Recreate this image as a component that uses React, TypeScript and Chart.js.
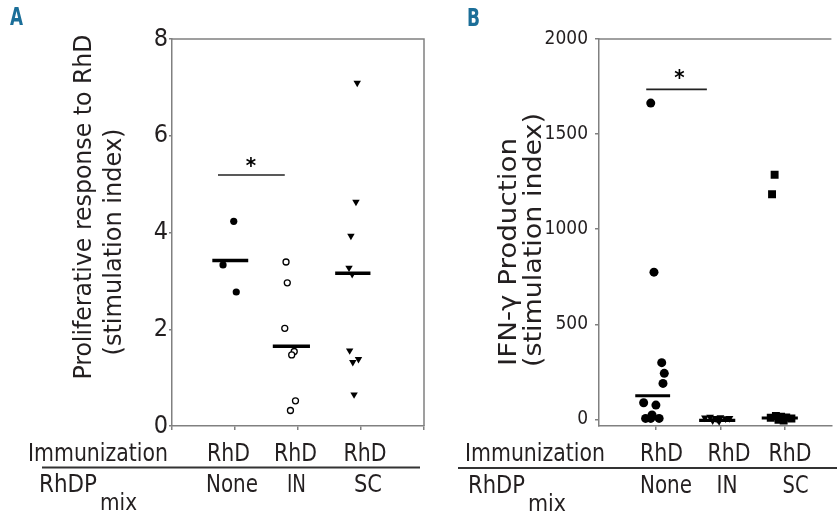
import React, { useEffect, useRef } from "react";
import { Chart, registerables } from "chart.js";
Chart.register(...registerables);

const NARROW =
  "'Liberation Sans Narrow', 'DejaVu Sans Condensed', 'Roboto Condensed', 'Liberation Sans', Arial, sans-serif";
const AXIS = "#808080";
const INK = "#231f20";
const PANEL_COLOR = "#1b6e98";

// ---------------- shared category labels ----------------
const rowLabels = ["Immunization", "RhDP", "mix"];
const immunization = ["RhD", "RhD", "RhD"];
const rhdpMix = ["None", "IN", "SC"];

// ---------------- Panel A: proliferative response ----------------
const aTitle = ["Proliferative response to RhD", "(stimulation index)"];
const aTicks = [0, 2, 4, 6, 8];
const aCatTicks = [0, 1, 2, 3, 4];
const aNoneX = [0.98, 0.81, 1.02];
const aNoneY = [4.23, 3.33, 2.77];
const aInX = [1.81, 1.83, 1.79, 1.94, 1.9, 1.96, 1.88];
const aInY = [3.39, 2.96, 2.02, 1.54, 1.47, 0.52, 0.32];
const aScX = [2.94, 2.92, 2.84, 2.81, 2.86, 2.82, 2.96, 2.87, 2.89];
const aScY = [7.09, 4.63, 3.93, 3.27, 3.14, 1.56, 1.38, 1.32, 0.65];
const aMeanY = [3.42, 1.65, 3.16];
const aMeanX0 = [0.64, 1.6, 2.59];
const aMeanX1 = [1.21, 2.19, 3.15];
const aSigX = [0.73, 1.79];
const aSigY = [5.19, 5.19];
const aStar = [1.254, 5.5];

// ---------------- Panel B: IFN-gamma production ----------------
const bTitle = ["IFN-\u03b3 Production", "(stimulation index)"];
const bTicks = [0, 500, 1000, 1500, 2000];
const bCatTicks = [1, 2, 3];
const bNoneX = [0.92, 0.97, 1.09, 1.13, 1.11, 0.81, 1.0, 0.94, 0.84, 0.92, 1.05];
const bNoneY = [1663, 774, 298, 242, 189, 87, 75, 23, 5, 5, 5];
const bInX = [1.76, 1.84, 1.92, 2.0, 2.08, 2.14, 1.88, 1.98, 1.95];
const bInY = [8, 12, 6, 10, 4, 6, -6, -10, 0];
const bScX = [2.84, 2.8, 2.78, 2.86, 2.94, 3.02, 3.1, 2.9, 2.98];
const bScY = [1286, 1184, 8, 18, 14, 10, 4, -2, -6];
const bMeanY = [124, -5, 7];
const bMeanX0 = [0.68, 1.67, 2.64];
const bMeanX1 = [1.22, 2.23, 3.2];
const bSigX = [0.85, 1.79];
const bSigY = [1735, 1735];
const bStar = [1.365, 1828];

const pts = (xs: number[], ys: number[]) => xs.map((x, i) => ({ x, y: ys[i] }));

function txt(
  ctx: CanvasRenderingContext2D,
  s: string,
  x: number,
  y: number,
  size: number,
  o: { align?: CanvasTextAlign; width?: number; bold?: boolean; color?: string; rot?: boolean } = {}
) {
  ctx.save();
  ctx.font = `${o.bold ? "bold " : ""}${size}px ${NARROW}`;
  ctx.fillStyle = o.color || INK;
  ctx.textBaseline = "alphabetic";
  ctx.translate(x, y);
  if (o.rot) ctx.rotate(-Math.PI / 2);
  const w = ctx.measureText(s).width;
  if (o.width) ctx.scale(o.width / w, 1);
  ctx.textAlign = o.align || "left";
  ctx.fillText(s, 0, 0);
  ctx.restore();
}

function star(ctx: CanvasRenderingContext2D, cx: number, cy: number) {
  ctx.save();
  ctx.font = `bold 22px ${NARROW}`;
  ctx.fillStyle = "#000";
  ctx.textAlign = "center";
  ctx.textBaseline = "alphabetic";
  ctx.fillText("*", cx, cy + 13);
  ctx.restore();
}

function meanLines(x0: number[], x1: number[], ys: number[], width: number) {
  return ys.map((y, i) => ({
    type: "line" as const,
    data: [
      { x: x0[i], y },
      { x: x1[i], y },
    ],
    borderColor: "#000",
    borderWidth: width,
    pointRadius: 0,
    showLine: true,
  }));
}

function ticksFrom(values: number[]) {
  return (scale: any) => {
    scale.ticks = values.map((v) => ({ value: v }));
  };
}

const frame = (right: boolean) => ({
  id: "frame",
  beforeDatasetsDraw(chart: any) {
    const { ctx, chartArea: a } = chart;
    ctx.save();
    ctx.strokeStyle = AXIS;
    ctx.lineWidth = 1.5;
    ctx.beginPath();
    ctx.moveTo(a.left, a.top);
    ctx.lineTo(a.right, a.top);
    if (right) ctx.lineTo(a.right, a.bottom);
    ctx.stroke();
    ctx.restore();
  },
});

function buildA(canvas: HTMLCanvasElement) {
  const labels = {
    id: "labelsA",
    afterDraw(chart: any) {
      const ctx = chart.ctx as CanvasRenderingContext2D;
      const xs = chart.scales.x;
      const ys = chart.scales.y;
      txt(ctx, "A", 10, 25, 25, { bold: true, color: PANEL_COLOR, width: 13 });
      txt(ctx, aTitle[0], 91, 207, 25, { rot: true, align: "center", width: 345 });
      txt(ctx, aTitle[1], 121, 242, 25, { rot: true, align: "center", width: 227 });
      star(ctx, xs.getPixelForValue(aStar[0]), ys.getPixelForValue(aStar[1]));
      txt(ctx, rowLabels[0], 28, 461, 25, { width: 140 });
      const rhdX = [228.5, 295.5, 365];
      immunization.forEach((s, i) => txt(ctx, s, rhdX[i], 461, 25, { align: "center", width: 43 }));
      ctx.save();
      ctx.strokeStyle = "#333";
      ctx.lineWidth = 2;
      ctx.beginPath();
      ctx.moveTo(42, 467.5);
      ctx.lineTo(420, 467.5);
      ctx.stroke();
      ctx.restore();
      txt(ctx, rowLabels[1], 39, 492, 25, { width: 58 });
      txt(ctx, rowLabels[2], 100, 510, 23, { width: 37 });
      const mixX = [232, 296.5, 368];
      const mixW = [52, 19, 28];
      rhdpMix.forEach((s, i) => txt(ctx, s, mixX[i], 492, 25, { align: "center", width: mixW[i] }));
    },
  };
  return new Chart(canvas, {
    type: "scatter",
    data: {
      datasets: [
        { data: pts(aNoneX, aNoneY), pointStyle: "circle", pointRadius: 3.6, backgroundColor: "#000", borderColor: "#000", borderWidth: 0 },
        { data: pts(aInX, aInY), pointStyle: "circle", pointRadius: 3, backgroundColor: "#fff", borderColor: "#000", borderWidth: 1.3 },
        { data: pts(aScX, aScY), pointStyle: "triangle", rotation: 180, pointRadius: 4.3, backgroundColor: "#000", borderColor: "#000", borderWidth: 0 },
        ...meanLines(aMeanX0, aMeanX1, aMeanY, 3.5),
        { type: "line", data: pts(aSigX, aSigY), borderColor: "#222", borderWidth: 1.6, pointRadius: 0, showLine: true },
      ] as any,
    },
    options: {
      animation: false,
      responsive: false,
      events: [],
      layout: { padding: { left: 0, right: 6, top: 39, bottom: 0 } },
      plugins: { legend: { display: false }, tooltip: { enabled: false } },
      scales: {
        x: {
          type: "linear",
          min: 0,
          max: 4,
          afterBuildTicks: ticksFrom(aCatTicks),
          afterFit: (s: any) => {
            s.height = 89;
          },
          ticks: { display: false },
          grid: { drawOnChartArea: false, drawTicks: true, tickLength: 4, color: AXIS, lineWidth: 1.5 },
          border: { color: AXIS, width: 1.5 },
        },
        y: {
          min: 0,
          max: 8,
          afterBuildTicks: ticksFrom(aTicks),
          afterFit: (s: any) => {
            s.width = 172;
          },
          ticks: { font: { family: NARROW, size: 25 }, color: INK, padding: 1, callback: (v: any) => String(v) },
          grid: { drawOnChartArea: false, drawTicks: true, tickLength: 3, color: AXIS, lineWidth: 1.5 },
          border: { color: AXIS, width: 1.5 },
        },
      },
    } as any,
    plugins: [frame(true), labels],
  });
}

function buildB(canvas: HTMLCanvasElement) {
  const OX = 430;
  const labels = {
    id: "labelsB",
    afterDraw(chart: any) {
      const ctx = chart.ctx as CanvasRenderingContext2D;
      const xs = chart.scales.x;
      const ys = chart.scales.y;
      txt(ctx, "B", 467 - OX, 26, 25, { bold: true, color: PANEL_COLOR, width: 13 });
      txt(ctx, bTitle[0], 516 - OX, 252, 25, { rot: true, align: "center", width: 228 });
      txt(ctx, bTitle[1], 541 - OX, 240, 25, { rot: true, align: "center", width: 254 });
      star(ctx, xs.getPixelForValue(bStar[0]), ys.getPixelForValue(bStar[1]));
      txt(ctx, rowLabels[0], 465 - OX, 461, 25, { width: 140 });
      const rhdX = [661.5, 729, 790];
      immunization.forEach((s, i) => txt(ctx, s, rhdX[i] - OX, 461, 25, { align: "center", width: 43 }));
      ctx.save();
      ctx.strokeStyle = "#333";
      ctx.lineWidth = 2;
      ctx.beginPath();
      ctx.moveTo(458 - OX, 468);
      ctx.lineTo(837 - OX, 468);
      ctx.stroke();
      ctx.restore();
      txt(ctx, rowLabels[1], 468 - OX, 493, 25, { width: 57 });
      txt(ctx, rowLabels[2], 528 - OX, 511, 23, { width: 38 });
      const mixX = [666, 727, 795.5];
      const mixW = [52, 21, 26];
      rhdpMix.forEach((s, i) => txt(ctx, s, mixX[i] - OX, 493, 25, { align: "center", width: mixW[i] }));
    },
  };
  return new Chart(canvas, {
    type: "scatter",
    data: {
      datasets: [
        { data: pts(bNoneX, bNoneY), pointStyle: "circle", pointRadius: 4.5, backgroundColor: "#000", borderColor: "#000", borderWidth: 0 },
        { data: pts(bInX, bInY), pointStyle: "triangle", rotation: 180, pointRadius: 4.5, backgroundColor: "#000", borderColor: "#000", borderWidth: 0 },
        { data: pts(bScX, bScY), pointStyle: "rect", pointRadius: 5.6, backgroundColor: "#000", borderColor: "#000", borderWidth: 0 },
        ...meanLines(bMeanX0, bMeanX1, bMeanY, 3.2),
        { type: "line", data: pts(bSigX, bSigY), borderColor: "#222", borderWidth: 1.6, pointRadius: 0, showLine: true },
      ] as any,
    },
    options: {
      animation: false,
      responsive: false,
      events: [],
      layout: { padding: { left: 0, right: 1, top: 39, bottom: 0 } },
      plugins: { legend: { display: false }, tooltip: { enabled: false } },
      scales: {
        x: {
          type: "linear",
          min: 0.118,
          max: 3.72,
          afterBuildTicks: ticksFrom(bCatTicks),
          afterFit: (s: any) => {
            s.height = 89;
          },
          ticks: { display: false },
          grid: { drawOnChartArea: false, drawTicks: true, tickLength: 4, color: AXIS, lineWidth: 1.5 },
          border: { color: AXIS, width: 1.5 },
        },
        y: {
          min: -35,
          max: 2000,
          afterBuildTicks: ticksFrom(bTicks),
          afterFit: (s: any) => {
            s.width = 169;
          },
          ticks: { font: { family: NARROW, size: 19 }, color: INK, padding: 7, callback: (v: any) => String(v) },
          grid: { drawOnChartArea: false, drawTicks: true, tickLength: 4, color: AXIS, lineWidth: 1.5 },
          border: { color: AXIS, width: 1.5 },
        },
      },
    } as any,
    plugins: [frame(false), labels],
  });
}

export default function App() {
  const refA = useRef<HTMLCanvasElement>(null);
  const refB = useRef<HTMLCanvasElement>(null);
  useEffect(() => {
    const a = buildA(refA.current!);
    const b = buildB(refB.current!);
    return () => {
      a.destroy();
      b.destroy();
    };
  }, []);
  return (
    <div style={{ position: "absolute", left: 0, top: 0, width: 837, height: 515, background: "#fff", overflow: "hidden" }}>
      <canvas ref={refA} width={430} height={515} style={{ position: "absolute", left: 0, top: 0, width: 430, height: 515 }} />
      <canvas ref={refB} width={407} height={515} style={{ position: "absolute", left: 430, top: 0, width: 407, height: 515 }} />
    </div>
  );
}
